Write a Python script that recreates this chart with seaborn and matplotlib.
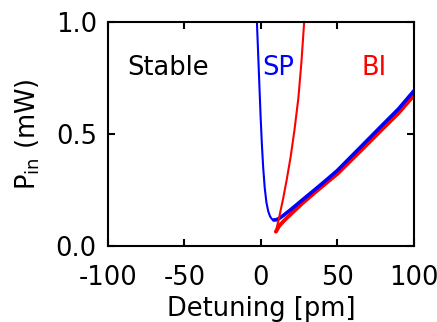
import numpy as np
import pandas as pd
import matplotlib
matplotlib.use("Agg")
import matplotlib.pyplot as plt
import seaborn as sns

# ============================================
# DATA
# ============================================

# SP boundary, left branch down to the minimum
sp_x = [-2.6, -1.8, -1.0, -0.2, 0.6, 1.5, 2.5, 3.6, 4.8, 6.0, 7.2, 8.4]
sp_y = [1.0, 0.86, 0.72, 0.58, 0.46, 0.35, 0.26, 0.195, 0.155, 0.132, 0.12, 0.116]

# SP boundary, lower branch from the minimum to the right
sp_low_x = [8.4, 10.0, 12.0, 15, 20, 27, 35, 42, 50, 58, 66, 78, 90, 100]
sp_low_y = [0.116, 0.117, 0.123, 0.138, 0.165, 0.205, 0.25, 0.29, 0.337,
            0.392, 0.447, 0.53, 0.612, 0.692]

# BI boundary, lower branch
bi_low_x = [9.8, 12, 15, 20, 27, 35, 42, 50, 58, 66, 78, 90, 100]
bi_low_y = [0.064, 0.09, 0.112, 0.145, 0.19, 0.237, 0.277, 0.322, 0.376,
            0.43, 0.512, 0.593, 0.672]

# BI boundary, upper branch
bi_up_x = [9.8, 12.0, 14.5, 17.0, 19.5, 22.0, 24.5, 26.5, 28.3]
bi_up_y = [0.064, 0.13, 0.21, 0.30, 0.40, 0.52, 0.66, 0.82, 1.0]

x_ticks = [-100, -50, 0, 50, 100]
y_ticks = [0.0, 0.5, 1.0]

# ============================================
# PLOT
# ============================================

sns.set_style("ticks")
plt.rcParams['font.family'] = ['DejaVu Sans']
plt.rcParams['mathtext.fontset'] = 'dejavusans'
plt.rcParams['axes.unicode_minus'] = False
for k in ['text.color', 'axes.labelcolor', 'xtick.color', 'ytick.color',
          'axes.edgecolor']:
    plt.rcParams[k] = 'black'

fig = plt.figure(figsize=(4.37, 3.22), dpi=100)
ax = fig.add_axes([0.247, 0.236, 0.700, 0.696])

sns.lineplot(x=bi_low_x, y=bi_low_y, ax=ax, color='red', lw=2.8,
             sort=False, estimator=None)
sns.lineplot(x=sp_x, y=sp_y, ax=ax, color='blue', lw=1.5,
             sort=False, estimator=None)
sns.lineplot(x=sp_low_x, y=sp_low_y, ax=ax, color='blue', lw=2.6,
             sort=False, estimator=None)
sns.lineplot(x=bi_up_x, y=bi_up_y, ax=ax, color='red', lw=1.5,
             sort=False, estimator=None)

ax.set_xlim(-100, 100)
ax.set_ylim(0, 1.0)
ax.set_xticks(x_ticks)
ax.set_yticks(y_ticks)
ax.set_yticklabels(["0.0", "0.5", "1.0"])

ax.tick_params(direction='in', length=5, width=1.5, labelsize=18.5,
               top=True, right=True)
ax.tick_params(axis='x', pad=14)
ax.tick_params(axis='y', pad=8)
for s in ax.spines.values():
    s.set_linewidth(1.5)
    s.set_visible(True)

ax.set_xlabel("Detuning [pm]", fontsize=18.5, labelpad=3)
ax.set_ylabel(r"P$_{\rm in}$ (mW)", fontsize=18.5, labelpad=10)

ax.text(-60.8, 0.795, "Stable", fontsize=18.5, color='black',
        ha='center', va='center')
ax.text(11.4, 0.795, "SP", fontsize=18.5, color='blue',
        ha='center', va='center')
ax.text(74.2, 0.795, "BI", fontsize=18.5, color='red',
        ha='center', va='center')

fig.savefig("out.png", dpi=100)
